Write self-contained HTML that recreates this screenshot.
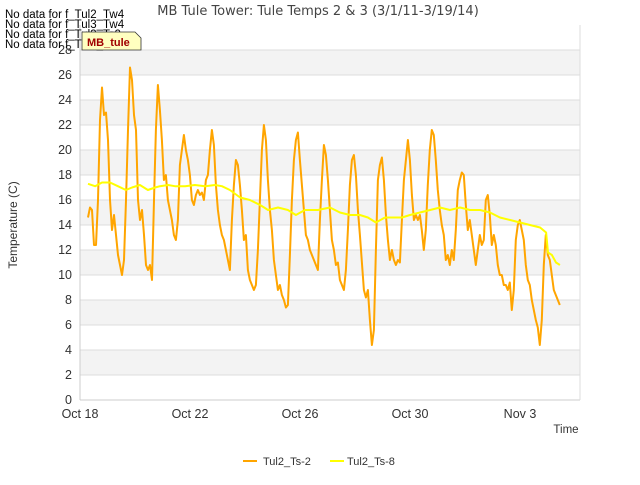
<!DOCTYPE html>
<html><head><meta charset="utf-8"><style>
body{margin:0;background:#fff;width:640px;height:480px;overflow:hidden;font-family:"Liberation Sans",sans-serif}
</style></head><body>
<svg id="chart" width="640" height="480" xmlns="http://www.w3.org/2000/svg" font-family="Liberation Sans, sans-serif">
<rect width="640" height="480" fill="#fff"/>
<g id="bands"></g>
<g id="grid"></g>
<g id="yticks" font-size="12.5" fill="#333" text-anchor="end"></g>
<g id="xticks" font-size="12.5" fill="#333" text-anchor="middle"></g>
<line x1="80" y1="400" x2="580" y2="400" stroke="#ccc"/>
<line x1="80" y1="25" x2="80" y2="400" stroke="#ccc"/>
<line x1="580" y1="25" x2="580" y2="400" stroke="#ddd"/>
<g id="series"></g>
<text x="318" y="15" font-size="13" font-family="DejaVu Sans, sans-serif" fill="#444" text-anchor="middle">MB Tule Tower: Tule Temps 2 &amp; 3 (3/1/11-3/19/14)</text>
<g font-size="11.5" fill="#000">
<text x="5" y="18">No data for f_Tul2_Tw4</text>
<text x="5" y="28">No data for f_Tul3_Tw4</text>
<text x="5" y="38">No data for f_Tul3_Ts2</text>
<text x="5" y="48">No data for f_Tul3_Ts8</text>
</g>
<g>
<path d="M82,32 L135,32 L141,38 L141,50 L82,50 Z" fill="#ffffc0" stroke="#333" stroke-width="0.8"/>
<text x="87" y="46" font-size="11" font-weight="bold" fill="#a00000">MB_tule</text>
</g>
<text transform="translate(17,225) rotate(-90)" font-size="12" fill="#333" text-anchor="middle">Temperature (C)</text>
<text x="566" y="433" font-size="11.5" fill="#333" text-anchor="middle">Time</text>
<g font-size="11" fill="#333">
<g><line x1="243" y1="461" x2="257" y2="461" stroke="#ffa500" stroke-width="2"/><text x="263" y="465">Tul2_Ts-2</text></g>
<g><line x1="330" y1="461" x2="344" y2="461" stroke="#ffff00" stroke-width="2"/><text x="347" y="465">Tul2_Ts-8</text></g>
</g>
</svg>
<script>
const yTicks=[0,2,4,6,8,10,12,14,16,18,20,22,24,26,28];
const xTickDays=[0,4,8,12,16];
const xTickLabels=["Oct 18","Oct 22","Oct 26","Oct 30","Nov 3"];
const ts2Start=0.29;
const ts2Step=0.0727;
const ts2Values=[14.6,15.4,15.2,12.4,12.4,16,22.4,25,22.8,23,20.8,16,13.6,14.8,13.2,11.6,10.8,10,11.2,16,21.6,26.6,25.6,22.8,21.6,16,14.4,15.2,13.2,10.8,10.4,10.8,9.6,16,21.6,25.2,23.2,20.8,17.6,18,16,15.2,14.4,13.2,12.8,14.4,18.8,20,21.2,20,19.2,18,16,15.6,16.4,16.8,16.4,16.6,16,17.6,18,20,21.6,20.4,17.2,15.2,14,13.2,12.8,12,11.2,10.4,14.4,17.2,19.2,18.8,17.2,15.2,12.8,13.2,10.4,9.6,9.2,8.8,9.2,12,16,20,22,20.8,17.6,15.2,13.6,11.2,10,8.8,9.2,8.4,8,7.4,7.6,11.6,16,19.2,20.8,21.4,19.2,17.2,15.2,13.2,12.8,12,11.6,11.2,10.8,10.4,14.4,17.6,20.4,19.6,17.6,15.2,12.8,12,10.8,11,9.6,9.2,8.8,10.4,13.6,17.2,19.2,19.6,18,15.2,13.2,11,8.8,8.2,8.8,6.4,4.4,5.6,12,17.6,18.8,19.4,17.6,14.8,12.8,11.2,12,11.2,10.8,11.2,11,14.4,17.6,19.2,20.8,19.2,16.4,14.4,14.8,14.4,14.8,13.6,12,13.6,17.2,20,21.6,21.2,19.2,16.8,15.2,14,13.2,11.2,11.6,10.8,12,11.2,13.6,16.8,17.6,18.2,18,15.6,13.6,14.4,13.2,12,10.8,12,13.2,12.4,12.8,16,16.4,14.8,12.4,13.2,12.4,10.8,10,10,9.2,9.2,8.8,9.4,7.2,8.8,12.8,14,14.4,13.6,12.8,10.8,9.6,9.2,8,7.2,6.4,5.8,4.4,6.4,10.8,13.2,11.6,11.2,10,8.8,8.4,8,7.6];
const ts8Days=[0.29,0.55,0.8,1.09,1.38,1.67,1.89,2.18,2.47,2.73,2.91,3.2,3.45,3.82,4.18,4.55,4.91,5.16,5.45,5.82,6.18,6.55,6.84,7.2,7.56,7.85,8.18,8.65,9.09,9.45,9.82,10.18,10.47,10.76,11.09,11.35,11.71,12,12.36,12.73,13.09,13.45,13.82,14.18,14.55,14.91,15.27,15.64,16,16.36,16.73,16.95,17.02,17.16,17.31,17.45];
const ts8Values=[17.3,17.1,17.4,17.4,17.1,16.8,17.0,17.2,16.8,17.0,17.1,17.2,17.1,17.1,17.2,17.1,17.2,17.1,16.8,16.2,16.0,15.6,15.2,15.4,15.2,14.8,15.2,15.2,15.4,15.0,14.8,14.8,14.6,14.2,14.6,14.6,14.6,14.8,15.0,15.2,15.4,15.2,15.4,15.2,15.2,15.0,14.6,14.4,14.2,14.0,13.8,13.4,11.8,11.6,11.0,10.8];

const NS="http://www.w3.org/2000/svg";
function xs(d){return 80+d*27.5;}
function ys(v){return 400-v*12.5;}
function mk(tag,attrs,parent){const e=document.createElementNS(NS,tag);for(const k in attrs)e.setAttribute(k,attrs[k]);parent.appendChild(e);return e;}
const bands=document.getElementById('bands'),grid=document.getElementById('grid');
for(let v=2;v<28;v+=4){
  const r=mk('rect',{x:80,y:ys(v+2),width:500,height:ys(v)-ys(v+2),fill:'#f3f3f3'},bands);
  
  
}
const yt=document.getElementById('yticks');
yTicks.forEach(v=>{
  const l=mk('line',{x1:80,x2:580,y1:ys(v),y2:ys(v),stroke:'#ddd'},grid);
  
  
  const t=mk('text',{x:72,y:ys(v)+4},yt);t.textContent=v;
  
  
});
const xt=document.getElementById('xticks');
xTickDays.forEach((d,i)=>{
  const t=mk('text',{x:xs(d),y:418},xt);t.textContent=xTickLabels[i];
  
  
});
const s=document.getElementById('series');
const p2=ts2Values.map((v,i)=>xs(ts2Start+i*ts2Step).toFixed(1)+','+ys(v).toFixed(1)).join(' ');
const l2=mk('polyline',{points:p2,fill:'none',stroke:'#ffa500','stroke-width':2,'stroke-linejoin':'round'},s);


const p8=ts8Values.map((v,i)=>xs(ts8Days[i]).toFixed(1)+','+ys(v).toFixed(1)).join(' ');
const l8=mk('polyline',{points:p8,fill:'none',stroke:'#ffff00','stroke-width':2,'stroke-linejoin':'round'},s);


</script>
</body></html>
